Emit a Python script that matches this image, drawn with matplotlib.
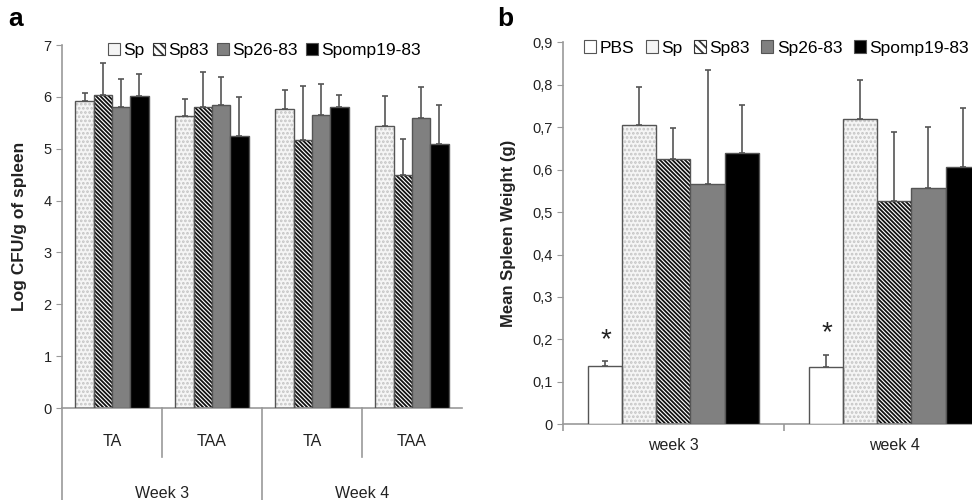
import numpy as np
import matplotlib
matplotlib.use("Agg")
import matplotlib.pyplot as plt
from matplotlib.patches import Patch
from matplotlib.ticker import FuncFormatter
from matplotlib.transforms import blended_transform_factory

plt.rcParams['font.family'] = ['Liberation Sans', 'DejaVu Sans']
plt.rcParams['hatch.linewidth'] = 1.3

# panel a data
a_groups = ['TA', 'TAA', 'TA', 'TAA']
a_weeks = ['Week 3', 'Week 4']
a_series = ['Sp', 'Sp83', 'Sp26-83', 'Spomp19-83']
a_sp = [5.92, 5.64, 5.77, 5.43]
a_sp83 = [6.03, 5.81, 5.16, 4.49]
a_sp2683 = [5.80, 5.85, 5.65, 5.59]
a_spomp = [6.01, 5.25, 5.81, 5.10]
a_sp_err = [0.16, 0.31, 0.36, 0.58]
a_sp83_err = [0.62, 0.66, 1.05, 0.69]
a_sp2683_err = [0.55, 0.54, 0.59, 0.60]
a_spomp_err = [0.44, 0.74, 0.23, 0.74]

# panel b data
b_groups = ['week 3', 'week 4']
b_series = ['PBS', 'Sp', 'Sp83', 'Sp26-83', 'Spomp19-83']
b_pbs = [0.137, 0.136]
b_sp = [0.706, 0.719]
b_sp83 = [0.625, 0.525]
b_sp2683 = [0.565, 0.556]
b_spomp = [0.639, 0.606]
b_pbs_err = [0.012, 0.028]
b_sp_err = [0.089, 0.092]
b_sp83_err = [0.072, 0.164]
b_sp2683_err = [0.269, 0.145]
b_spomp_err = [0.113, 0.139]

# styles: (face, hatch, hatch colour)
styles = {
    'PBS': ('white', None, None),
    'Sp': ('#f5f5f5', '....', '#c4c4c4'),
    'Sp83': ('white', '\\\\\\\\\\\\\\\\', '#111111'),
    'Sp26-83': ('#808080', None, None),
    'Spomp19-83': ('black', None, None),
}
EDGE = '#555555'
TXT = '#222222'


def draw_bar(ax, x, h, w, name, err):
    face, hatch, hcol = styles[name]
    if hatch:
        ax.bar(x, h, w, color=face, edgecolor=hcol, hatch=hatch, linewidth=0, zorder=2)
        ax.bar(x, h, w, fill=False, edgecolor=EDGE, linewidth=1.0, zorder=3)
    else:
        ax.bar(x, h, w, color=face, edgecolor=EDGE, linewidth=1.0, zorder=3)
    ax.errorbar(x, h, yerr=[np.zeros(len(err)), err], fmt='none',
                ecolor='#555555', elinewidth=1.2, capsize=2.5, capthick=1.2, zorder=1)


def legend_handles(names):
    hs = []
    for n in names:
        face, hatch, hcol = styles[n]
        if n == 'Sp':
            hs.append(Patch(facecolor='#f4f4f4', edgecolor=EDGE, linewidth=0.8))
        elif hatch:
            hs.append(Patch(facecolor=face, edgecolor='#333333', hatch='\\\\\\\\', linewidth=0.8))
        else:
            hs.append(Patch(facecolor=face, edgecolor=EDGE, linewidth=0.8))
    return hs


def style_axis(ax):
    for s in ['top', 'right']:
        ax.spines[s].set_visible(False)
    for s in ['left', 'bottom']:
        ax.spines[s].set_color('#999999')
        ax.spines[s].set_linewidth(1.2)
    ax.tick_params(axis='y', colors='#999999', labelcolor=TXT, labelsize=10.5, length=4)


fig = plt.figure(figsize=(9.72, 5.0), dpi=100)

# ---------------- panel a ----------------
ax1 = fig.add_axes([0.0638, 0.184, 0.4115, 0.726])
style_axis(ax1)
xa = np.arange(len(a_groups))
wa = 0.183
a_vals = [a_sp, a_sp83, a_sp2683, a_spomp]
a_errs = [a_sp_err, a_sp83_err, a_sp2683_err, a_spomp_err]
for i, name in enumerate(a_series):
    draw_bar(ax1, xa + (i - 1.5) * wa, a_vals[i], wa, name, a_errs[i])
ax1.set_xlim(-0.5, 3.5)
ax1.set_ylim(0, 7)
ax1.set_yticks(range(0, 8))
ax1.set_xticks([])
ax1.set_ylabel('Log CFU/g of spleen', fontsize=12.5, fontweight='bold', color=TXT, labelpad=12)

tr = blended_transform_factory(ax1.transData, ax1.transAxes)
for i, g in enumerate(a_groups):
    ax1.text(xa[i], -0.093, g, transform=tr, ha='center', va='center', fontsize=11.5, color=TXT)
for j, wk in enumerate(a_weeks):
    ax1.text(2 * j + 0.5, -0.236, wk, transform=tr, ha='center', va='center', fontsize=11.5, color=TXT)
for xs in [0.5, 2.5]:
    ax1.plot([xs, xs], [0, -0.135], transform=tr, color='#999999', lw=1.2, clip_on=False)
for xs in [-0.5, 1.5]:
    ax1.plot([xs, xs], [0, -0.26], transform=tr, color='#999999', lw=1.2, clip_on=False)

ax1.legend(legend_handles(a_series), a_series, loc='center left', bbox_to_anchor=(0.115, 0.986),
           ncol=4, frameon=False, fontsize=12.5, handlelength=0.7, handleheight=0.7,
           handletextpad=0.2, columnspacing=0.45, borderpad=0, borderaxespad=0)
fig.text(0.008, 0.962, 'a', fontsize=19, fontweight='bold', va='center')

# ---------------- panel b ----------------
ax2 = fig.add_axes([0.5792, 0.1514, 0.4547, 0.764])
style_axis(ax2)
xb = np.arange(len(b_groups))
wb = 0.154
b_vals = [b_pbs, b_sp, b_sp83, b_sp2683, b_spomp]
b_errs = [b_pbs_err, b_sp_err, b_sp83_err, b_sp2683_err, b_spomp_err]
for i, name in enumerate(b_series):
    draw_bar(ax2, xb + (i - 2) * wb, b_vals[i], wb, name, b_errs[i])
ax2.set_xlim(-0.5, 1.5)
ax2.set_ylim(0, 0.9)
ax2.set_yticks(np.arange(0, 0.91, 0.1))
ax2.yaxis.set_major_formatter(FuncFormatter(lambda v, p: '0' if abs(v) < 1e-9 else ('%.1f' % v).replace('.', ',')))
ax2.set_xticks(xb)
ax2.set_xticklabels(b_groups)
ax2.set_xticks([-0.5, 0.5], minor=True)
ax2.tick_params(axis='x', which='major', length=0, labelsize=11.5, labelcolor=TXT, pad=10)
ax2.tick_params(axis='x', which='minor', length=5, color='#999999', width=1.2)
ax2.set_ylabel('Mean Spleen Weight (g)', fontsize=12, fontweight='bold', color=TXT, labelpad=12)

for i in range(len(b_groups)):
    ax2.text(xb[i] - 2 * wb, b_pbs[i] + b_pbs_err[i] + 0.05, '*', ha='center', va='center',
             fontsize=20, color=TXT)

ax2.legend(legend_handles(b_series), b_series, loc='center left', bbox_to_anchor=(0.048, 0.985),
           ncol=5, frameon=False, fontsize=12.5, handlelength=0.7, handleheight=0.7,
           handletextpad=0.2, columnspacing=0.65, borderpad=0, borderaxespad=0)
fig.text(0.512, 0.962, 'b', fontsize=19, fontweight='bold', va='center')

fig.savefig('out.png', dpi=100)
